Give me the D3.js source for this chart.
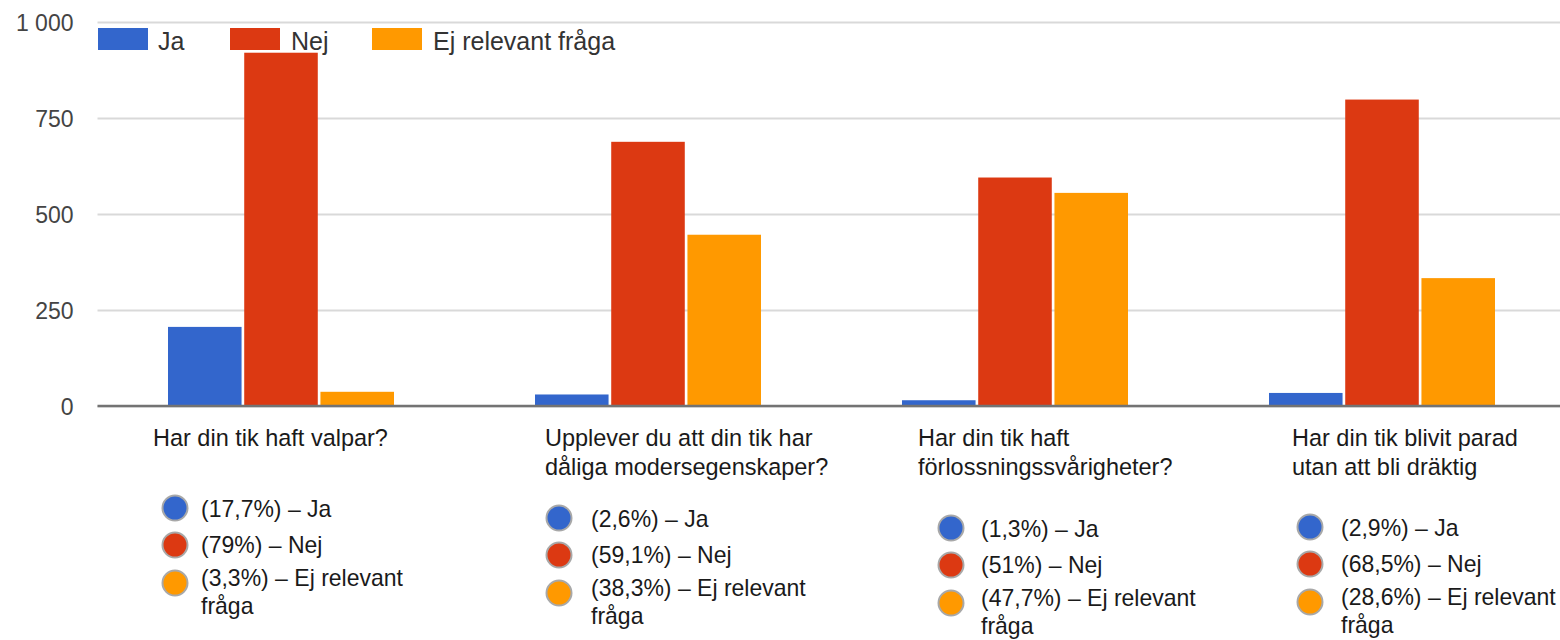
<!DOCTYPE html>
<html>
<head>
<meta charset="utf-8">
<script src="https://cdn.jsdelivr.net/npm/d3@7"></script>
<style>
  html, body { margin: 0; padding: 0; background: #fff; }
  svg { display: block; }
</style>
</head>
<body>
<svg id="chart" width="1560" height="640"></svg>
<script>
// ---------- data ----------
const categories = [
  "Har din tik haft valpar?",
  "Upplever du att din tik har dåliga modersegenskaper?",
  "Har din tik haft förlossningssvårigheter?",
  "Har din tik blivit parad utan att bli dräktig"
];
const categoryLines = [
  ["Har din tik haft valpar?"],
  ["Upplever du att din tik har", "dåliga modersegenskaper?"],
  ["Har din tik haft", "förlossningssvårigheter?"],
  ["Har din tik blivit parad", "utan att bli dräktig"]
];
const seriesNames = ["Ja", "Nej", "Ej relevant fråga"];
const valuesJa  = [206, 30, 15, 34];
const valuesNej = [920, 688, 595, 798];
const valuesEj  = [37, 446, 555, 333];
const pctJa  = ["17,7%", "2,6%", "1,3%", "2,9%"];
const pctNej = ["79%", "59,1%", "51%", "68,5%"];
const pctEj  = ["3,3%", "38,3%", "47,7%", "28,6%"];
const yTicks = [0, 250, 500, 750, 1000];

// ---------- layout / style ----------
const colors = ["#3366cc", "#dc3912", "#ff9900"];
const plot = { left: 97.5, right: 1565.5, top: 22, bottom: 406 };
// hand-placed annotation offsets (relative to each category band start)
const annot = [
  { label: 55.5, circle: 77.5, text: 103.5, row0: 508 },
  { label: 80.5, circle: 94.5, text: 126.5, row0: 518 },
  { label: 86.5, circle: 119.5, text: 149.5, row0: 528 },
  { label: 93.5, circle: 111.5, text: 142.5, row0: 527 }
];
const circleDy = [0, 37, 75];
const textDy = [9, 45, 78];

const svg = d3.select("#chart");

const x0 = d3.scaleBand().domain(categories).range([plot.left, plot.right]).padding(0);
const x1 = d3.scaleBand().domain(seriesNames).range([70.5, 296.5]).paddingInner(0.035).paddingOuter(0);
const y = d3.scaleLinear().domain([0, 1000]).range([plot.bottom, plot.top]);

// gridlines + tick labels
const yAxis = d3.axisLeft(y).tickValues(yTicks)
  .tickSize(-(plot.right - plot.left))
  .tickFormat(d => d3.format(",")(d).replace(",", " "));
const gy = svg.append("g").attr("transform", `translate(${plot.left},0)`).call(yAxis);
gy.select(".domain").remove();
gy.selectAll(".tick line").attr("stroke", "#d9d9d9").attr("stroke-width", 2);
gy.selectAll(".tick text")
  .attr("x", -24).attr("dy", "0.36em")
  .attr("fill", "#444").style("font-family", "'Liberation Sans', Arial, sans-serif")
  .style("font-size", "23px");

// bars
const rows = categories.map((c, i) => ({
  cat: c,
  vals: [valuesJa[i], valuesNej[i], valuesEj[i]]
}));
const groups = svg.append("g").selectAll("g").data(rows).join("g")
  .attr("transform", d => `translate(${x0(d.cat)},0)`);
groups.selectAll("rect")
  .data(d => d.vals.map((v, k) => ({ k, v })))
  .join("rect")
  .attr("x", d => x1(seriesNames[d.k]))
  .attr("width", x1.bandwidth())
  .attr("y", d => y(d.v))
  .attr("height", d => y(0) - y(d.v))
  .attr("fill", d => colors[d.k]);

// baseline
svg.append("line")
  .attr("x1", plot.left).attr("x2", plot.right)
  .attr("y1", y(0)).attr("y2", y(0))
  .attr("stroke", "#737373").attr("stroke-width", 2.5);

// top legend
const legItems = [
  { sw: 98, tx: 158 },
  { sw: 230, tx: 291 },
  { sw: 372, tx: 433 }
];
const leg = svg.append("g");
seriesNames.forEach((s, k) => {
  leg.append("rect").attr("x", legItems[k].sw).attr("y", 28).attr("width", 50).attr("height", 22)
    .attr("fill", colors[k]);
  leg.append("text").attr("x", legItems[k].tx).attr("y", 50).text(s)
    .attr("fill", "#333").style("font-family", "'Liberation Sans', Arial, sans-serif")
    .style("font-size", "25px");
});

// annotations below axis
const aFont = "'Liberation Sans', Arial, sans-serif";
const aSize = 23.5, eSize = 24;
function measure(s, size) {
  const p = svg.append("text").style("font-family", aFont).style("font-size", size + "px").text(s);
  const w = p.node().getComputedTextLength();
  p.remove();
  return w;
}
const sx = 235 / measure(categoryLines[0][0], aSize);
const sxE = 202 / measure(`(${pctEj[0]}) – Ej relevant`, eSize);

// multi-line text: one <text> with tspans
function txt(g, x, yy, lines, size, lh, scx) {
  const t = g.append("text")
    .attr("transform", `translate(${x},${yy}) scale(${scx},1)`)
    .style("font-family", aFont).style("font-size", size + "px")
    .attr("fill", "#1a1a1a");
  lines.forEach((ln, j) => {
    t.append("tspan").attr("x", 0).attr("y", j * lh).text(ln);
  });
  return t;
}

const ann = svg.append("g");
categories.forEach((c, i) => {
  const bx = x0(c);
  const a = annot[i];
  txt(ann, bx + a.label, 446, categoryLines[i], aSize, 29.5, sx);
  const entries = [
    [`(${pctJa[i]}) – Ja`],
    [`(${pctNej[i]}) – Nej`],
    [`(${pctEj[i]}) – Ej relevant`, "fråga"]
  ];
  entries.forEach((lines, k) => {
    const cy = a.row0 + circleDy[k];
    ann.append("circle").attr("cx", bx + a.circle).attr("cy", cy).attr("r", 12.5)
      .attr("fill", colors[k]).attr("stroke", "#a8a8a8").attr("stroke-width", 2);
    txt(ann, bx + a.text, a.row0 + textDy[k], lines, eSize, 28.5, sxE);
  });
});
</script>
</body>
</html>
